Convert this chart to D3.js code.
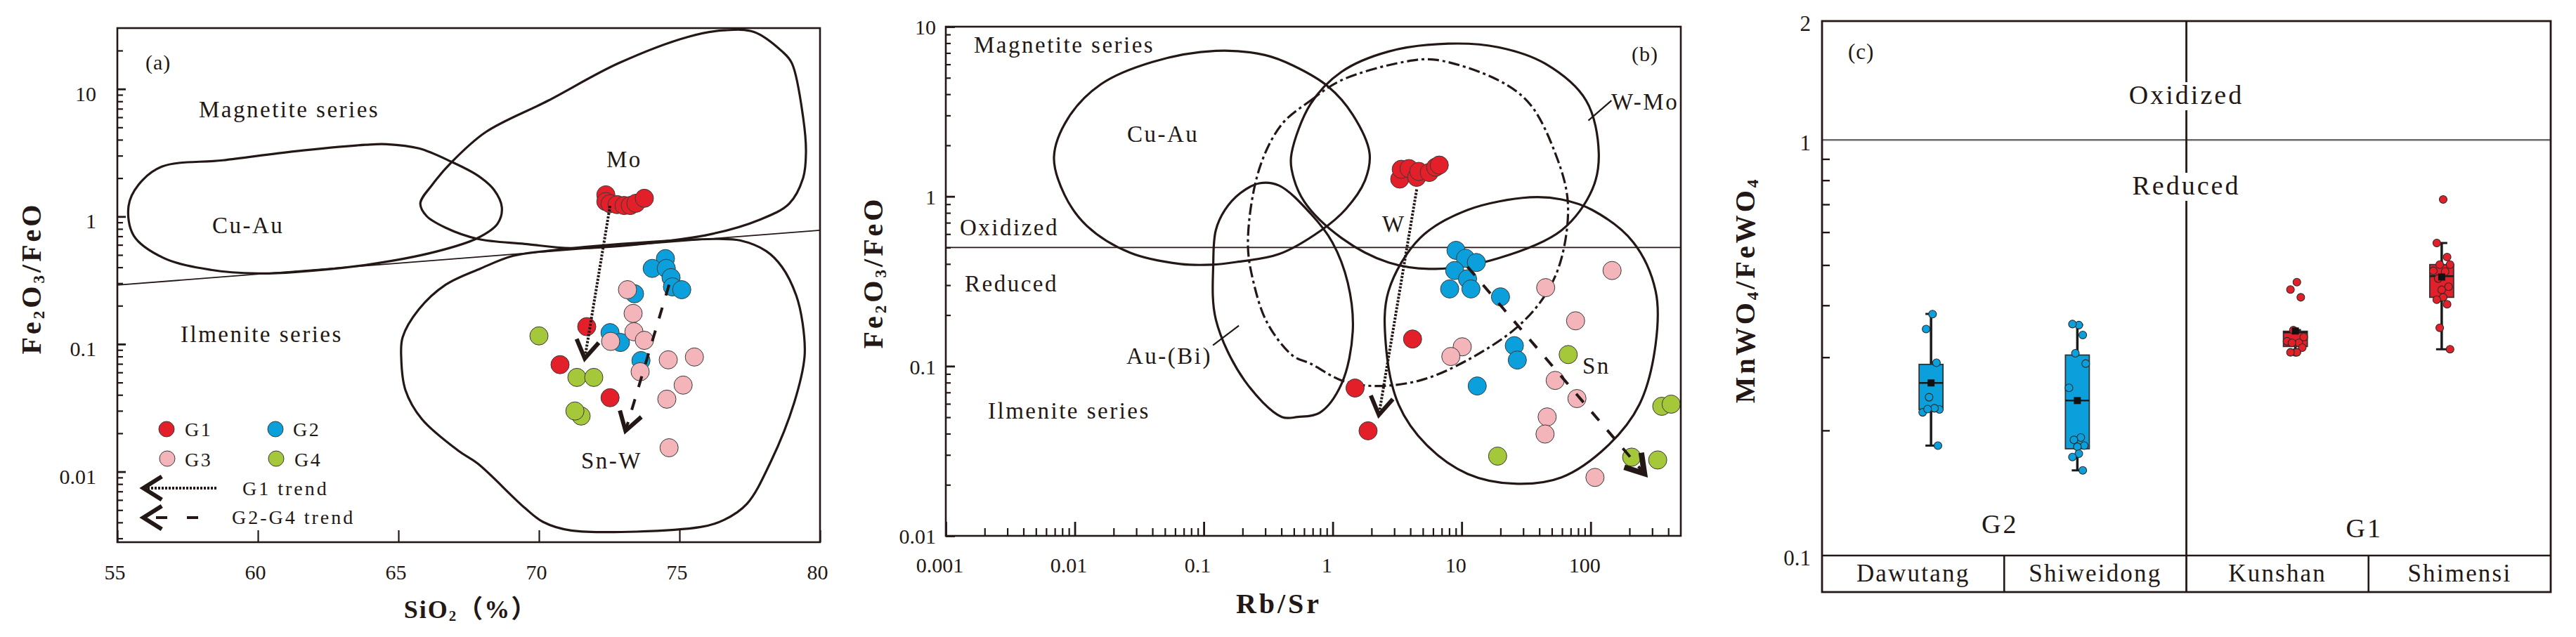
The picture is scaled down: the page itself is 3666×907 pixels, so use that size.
<!DOCTYPE html>
<html>
<head>
<meta charset="utf-8">
<script src="https://cdn.jsdelivr.net/npm/d3@7"></script>
<style>
  body { margin: 0; background: #fff; }
</style>
</head>
<body>
<svg id="chart" width="3666" height="907"></svg>
<script>
// ---------- panel (a): SiO2 vs Fe2O3/FeO ----------
const g1A = [[72.38, 1.48], [72.38, 1.31], [72.53, 1.26], [72.78, 1.24], [73.03, 1.22], [73.25, 1.22],
  [73.45, 1.27], [73.75, 1.39], [71.7, 0.137], [70.75, 0.069], [72.53, 0.038]];
const g2A = [[74.5, 0.468], [74.03, 0.392], [74.53, 0.392], [74.7, 0.332], [74.75, 0.281], [75.08, 0.267],
  [73.4, 0.248], [72.53, 0.123], [72.9, 0.103], [73.63, 0.0743]];
const g3A = [[73.15, 0.267], [73.35, 0.174], [73.38, 0.125], [72.55, 0.105], [73.75, 0.107], [73.6, 0.0607],
  [74.6, 0.0753], [75.53, 0.0792], [75.13, 0.0477], [74.55, 0.037], [74.63, 0.0154]];
const g4A = [[70.0, 0.116], [71.5, 0.0273], [71.28, 0.0299], [71.35, 0.0548], [71.95, 0.0548]];

const cuAuA = [[55.4, 1.21], [55.75, 1.77], [56.58, 2.46], [58.75, 2.76], [61.33, 3.25], [63.83, 3.65],
  [64.58, 3.69], [65.73, 3.42], [66.88, 2.69], [67.83, 2.09], [68.4, 1.62], [68.68, 1.18], [68.53, 0.88],
  [67.83, 0.68], [66.33, 0.53], [63.83, 0.417], [61.33, 0.367], [60.0, 0.358], [58.33, 0.382],
  [56.65, 0.473], [55.58, 0.71]];
const moA = [[65.78, 1.27], [66.2, 1.77], [66.88, 2.65], [68.1, 4.58], [70.33, 8.1], [72.83, 15.9],
  [75.33, 25.7], [76.58, 28.8], [77.65, 28], [78.65, 19.7], [79.0, 15.9], [79.4, 5.97], [79.5, 3.17],
  [79.4, 2.01], [78.9, 1.26], [77.83, 0.94], [76.15, 0.73], [73.65, 0.61], [71.15, 0.565], [69.5, 0.61],
  [67.83, 0.667], [66.68, 0.817], [66.0, 1.01]];
const snWA = [[65.15, 0.113], [65.73, 0.1875], [66.68, 0.292], [67.93, 0.392], [69.08, 0.492], [70.5, 0.544],
  [72.9, 0.61], [76.4, 0.667], [77.15, 0.65], [78.08, 0.537], [78.65, 0.402], [79.15, 0.242], [79.38, 0.146],
  [79.45, 0.08], [79.08, 0.0347], [78.25, 0.012], [77.4, 0.0056], [76.58, 0.00418], [75.75, 0.00368],
  [71.15, 0.00346], [70.15, 0.00403], [69.5, 0.00519], [67.83, 0.01153], [67.15, 0.01449], [65.83, 0.0259],
  [65.25, 0.0436], [65.1, 0.078]];
const seriesLineA = [[55, 0.29], [80, 0.78]];
const g1TrendA = [[72.53, 1.21], [71.63, 0.0772]];
const g24TrendA = [[74.63, 0.292], [73.08, 0.0209]];

const xTicksA = [55, 60, 65, 70, 75, 80];
const yTicksA = [0.01, 0.1, 1, 10];

// ---------- panel (b): Rb/Sr vs Fe2O3/FeO ----------
const g1B = [[3.31, 1.265], [3.40, 1.445], [3.90, 1.459], [4.48, 1.295], [4.65, 1.404], [5.61, 1.384],
  [6.28, 1.486], [6.7, 1.53], [4.16, 0.1445], [1.49, 0.0743], [1.88, 0.0416]];
const g2B = [[9.04, 0.481], [10.7, 0.432], [13.0, 0.408], [8.83, 0.366], [11.1, 0.327], [8.07, 0.285],
  [11.8, 0.285], [20.0, 0.256], [25.6, 0.132], [27.0, 0.1086], [13.2, 0.0764]];
const g3B = [[146.6, 0.366], [44.8, 0.29], [76.4, 0.185], [10.1, 0.13], [8.24, 0.114], [53.1, 0.0824],
  [78.3, 0.0644], [46.0, 0.0502], [44.3, 0.0398], [108, 0.0221]];
const g4B = [[67.0, 0.117], [356, 0.058], [421, 0.0597], [19.0, 0.0295], [208, 0.0291], [331, 0.028]];

const cuAuB = [[0.0069, 1.71], [0.00887, 2.89], [0.016, 4.59], [0.04, 6.2], [0.124, 7.21], [0.298, 6.81],
  [0.492, 5.91], [0.922, 4.44], [1.43, 3.03], [1.93, 1.8], [1.77, 1.23], [1.26, 0.84], [0.813, 0.631],
  [0.383, 0.457], [0.18, 0.411], [0.115, 0.396], [0.066, 0.4], [0.0268, 0.466], [0.01245, 0.669],
  [0.00834, 1.02]];
const auBiB = [[0.1186, 0.408], [0.124, 0.631], [0.146, 0.832], [0.192, 1.045], [0.269, 1.195],
  [0.383, 1.16], [0.673, 0.793], [0.993, 0.537], [1.31, 0.309], [1.43, 0.16], [1.17, 0.0786],
  [0.794, 0.0532], [0.537, 0.0502], [0.403, 0.0502], [0.207, 0.0824], [0.124, 0.189]];
const wB = [[0.403, 2.66], [0.673, 3.67], [1.17, 4.84], [3.57, 6.2], [6.28, 6.38], [19.2, 4.84], [33.8, 3.5],
  [53.1, 1.8], [66.5, 0.932], [59.4, 0.432], [44.5, 0.263], [27, 0.17], [11.1, 0.1086], [4.76, 0.0824],
  [2.06, 0.0764], [1.17, 0.0824], [0.673, 0.1035], [0.492, 0.115], [0.313, 0.178], [0.244, 0.309],
  [0.22, 0.537], [0.269, 1.445]];
const wMoB = [[0.48, 1.8], [0.673, 3.5], [1.17, 5.42], [2.71, 7.14], [7.87, 7.94], [19.2, 7.57], [44.5, 6.05],
  [92.3, 3.67], [115.6, 1.8], [103, 1.1], [59.4, 0.631], [19.2, 0.432], [6.28, 0.374], [2.71, 0.408],
  [1.17, 0.569], [0.601, 0.933], [0.48, 1.445]];
const snB = [[33.8, 0.988], [11.1, 0.832], [4.76, 0.569], [2.71, 0.277], [2.58, 0.1346], [3.24, 0.0595],
  [5.35, 0.0343], [11.1, 0.0232], [25.6, 0.0203], [59.4, 0.0221], [137.7, 0.0343], [239, 0.0595],
  [319, 0.1346], [319, 0.277], [214, 0.537], [103, 0.832], [59.4, 0.96]];
const redoxLineB = [[0.001, 0.5], [500, 0.5]];
const auBiLeader = [[0.1178, 0.1327], [0.1873, 0.1731]];
const wMoLeader = [[96, 2.8], [145, 3.67]];
const g1TrendB = [[4.48, 1.1], [2.28, 0.0516]];
const g24TrendB = [[11.1, 0.385], [261, 0.0233]];

const xTicksB = [0.001, 0.01, 0.1, 1, 10, 100];
const yTicksB = [0.01, 0.1, 1, 10];

// ---------- panel (c): MnWO4/FeWO4 box plots ----------
const sites = ['Dawutang', 'Shiweidong', 'Kunshan', 'Shimensi'];
const siteGroup = ['G2', 'G2', 'G1', 'G1'];
const groupsC = ['G2', 'G1'];
const boxLow = [0.1839, 0.1603, 0.3083, 0.3136];
const boxQ1 = [0.2246, 0.1807, 0.3185, 0.4182];
const boxMed = [0.2602, 0.2360, 0.3443, 0.4699];
const boxQ3 = [0.2884, 0.3037, 0.3465, 0.5014];
const boxHigh = [0.3814, 0.3588, 0.3487, 0.5650];
const boxMean = [0.2602, 0.2360, 0.347, 0.468];
const sitePoints = [
  [0.381, 0.3508, 0.2910, 0.2404, 0.2246, 0.2211, 0.2261, 0.2251, 0.1839],
  [0.3585, 0.3606, 0.3393, 0.3067, 0.2897, 0.2532, 0.1923, 0.1898, 0.1839, 0.1827, 0.1758, 0.1726, 0.1603],
  [0.4549, 0.4365, 0.4182, 0.3487, 0.3355, 0.3278, 0.3248, 0.3248, 0.3164, 0.3083, 0.3083, 0.3083],
  [0.7194, 0.5650, 0.5228, 0.5014, 0.5014, 0.4842, 0.4823, 0.4640, 0.4435, 0.4359, 0.4182, 0.4127,
    0.4023, 0.3532, 0.3136]
];
const yTicksC = [0.1, 1, 2];
const yMinorC = [0.2, 0.3, 0.4, 0.5, 0.6, 0.7, 0.8, 0.9];

// ---------- style ----------
const serif = '"Liberation Serif", "Times New Roman", serif';
const ink = '#231815';
const col = { G1: '#e3202a', G2: '#0ba0dc', G3: '#f3b4ba', G4: '#a4c83a' };

const svg = d3.select('#chart');
svg.append('rect').attr('width', 3666).attr('height', 907).attr('fill', '#fff');

function logMinor(lo, hi) {
  const out = [];
  for (let e = -4; e <= 3; e++) {
    for (let m = 2; m <= 9; m++) {
      const v = m * Math.pow(10, e);
      if (v > lo * 1.05 && v < hi * 0.98) out.push(+v.toPrecision(3));
    }
  }
  return out;
}

function field(g, pts, xs, ys, dash) {
  g.append('path')
    .datum(pts)
    .attr('d', d3.line().x(d => xs(d[0])).y(d => ys(d[1])).curve(d3.curveCatmullRomClosed.alpha(0.5)))
    .attr('fill', 'none')
    .attr('stroke', ink)
    .attr('stroke-width', 3.2)
    .attr('stroke-dasharray', dash || null);
}

function straight(g, pts, xs, ys, w) {
  g.append('path')
    .datum(pts)
    .attr('d', d3.line().x(d => xs(d[0])).y(d => ys(d[1])))
    .attr('fill', 'none')
    .attr('stroke', ink)
    .attr('stroke-width', w);
}

function dots(g, pts, xs, ys, color, r) {
  g.append('g')
    .selectAll('circle')
    .data(pts)
    .enter()
    .append('circle')
    .attr('cx', d => xs(d[0]))
    .attr('cy', d => ys(d[1]))
    .attr('r', r)
    .attr('fill', color)
    .attr('stroke', '#3a3a3a')
    .attr('stroke-width', 1);
}

function chevron(g, x2, y2, ang, len, w) {
  const a = 0.56;
  g.append('path')
    .attr('d', 'M' + (x2 + len * Math.cos(ang + a)) + ',' + (y2 + len * Math.sin(ang + a)) +
      'L' + x2 + ',' + y2 +
      'L' + (x2 + len * Math.cos(ang - a)) + ',' + (y2 + len * Math.sin(ang - a)))
    .attr('fill', 'none')
    .attr('stroke', ink)
    .attr('stroke-width', w)
    .attr('stroke-linejoin', 'miter');
}

function trend(g, pts, xs, ys, dash, w, headW) {
  const x1 = xs(pts[0][0]), y1 = ys(pts[0][1]);
  const x2 = xs(pts[1][0]), y2 = ys(pts[1][1]);
  g.append('line')
    .attr('x1', x1).attr('y1', y1).attr('x2', x2).attr('y2', y2)
    .attr('stroke', ink)
    .attr('stroke-width', w)
    .attr('stroke-dasharray', dash);
  chevron(g, x2, y2, Math.atan2(y1 - y2, x1 - x2), 30, headW);
}

function label(g, x, y, txt, size, opts) {
  opts = opts || {};
  return g.append('text')
    .attr('x', x).attr('y', y)
    .attr('font-family', serif)
    .attr('font-size', size)
    .attr('font-weight', opts.bold ? 'bold' : null)
    .attr('letter-spacing', opts.ls === undefined ? 2.5 : opts.ls)
    .attr('text-anchor', opts.anchor || 'start')
    .attr('fill', ink)
    .text(txt);
}

// title with subscripts: parts = [[text, isSub], ...]
function subTitle(g, x, y, parts, size, rotate, ls) {
  const t = g.append('text')
    .attr('transform', 'translate(' + x + ',' + y + ')' + (rotate ? ' rotate(-90)' : ''))
    .attr('font-family', serif + ', "Noto Sans CJK SC"')
    .attr('font-size', size)
    .attr('font-weight', 'bold')
    .attr('letter-spacing', ls)
    .attr('text-anchor', 'middle')
    .attr('fill', ink);
  let wasSub = false;
  parts.forEach(p => {
    const s = t.append('tspan').text(p[0]);
    if (p[1]) { s.attr('font-size', size * 0.58).attr('dy', size * 0.12); wasSub = true; }
    else if (wasSub) { s.attr('dy', -size * 0.12); wasSub = false; }
  });
  return t;
}

function styleAxis(g, size, w) {
  g.select('.domain').remove();
  g.selectAll('line').attr('stroke', ink).attr('stroke-width', w);
  g.selectAll('text').attr('font-family', serif).attr('font-size', size).attr('fill', ink);
}

// ================= PANEL A =================
const xA = d3.scaleLinear().domain([55, 80]).range([167, 1167]);
const yA = d3.scaleLog().domain([0.0028, 30]).range([772, 40]);
const pa = svg.append('g');

field(pa, cuAuA, xA, yA);
field(pa, moA, xA, yA);
field(pa, snWA, xA, yA);
straight(pa, seriesLineA, xA, yA, 1.8);

dots(pa, g1A, xA, yA, col.G1, 13);
dots(pa, g2A, xA, yA, col.G2, 13);
dots(pa, g3A, xA, yA, col.G3, 13);
dots(pa, g4A, xA, yA, col.G4, 13);

trend(pa, g1TrendA, xA, yA, '3,2', 4, 6);
trend(pa, g24TrendA, xA, yA, '16,18', 4, 6);

pa.append('g').attr('transform', 'translate(167,0)')
  .call(d3.axisLeft(yA).tickValues(logMinor(0.0028, 30)).tickSize(-8).tickFormat(''))
  .call(g => styleAxis(g, 30, 2.2));
pa.append('g').attr('transform', 'translate(167,0)')
  .call(d3.axisLeft(yA).tickValues(yTicksA).tickSize(-12).tickPadding(30).tickFormat(d => String(d)))
  .call(g => styleAxis(g, 30, 2.8))
  .call(g => g.selectAll('text').attr('dy', '0.55em'));
pa.append('g').attr('transform', 'translate(0,772)')
  .call(d3.axisBottom(xA).tickValues(xTicksA).tickSize(-17).tickPadding(32).tickFormat(d => String(d)))
  .call(g => styleAxis(g, 30, 2.2))
  .call(g => g.selectAll('text').attr('dx', -4));

pa.append('rect')
  .attr('x', xA(55)).attr('y', yA(30))
  .attr('width', xA(80) - xA(55)).attr('height', yA(0.0028) - yA(30))
  .attr('fill', 'none').attr('stroke', ink).attr('stroke-width', 2.6);

label(pa, 207, 99, '(a)', 30, { ls: 1 });
label(pa, 283, 167, 'Magnetite series', 33);
label(pa, 302, 332, 'Cu-Au', 33);
label(pa, 257, 487, 'Ilmenite series', 33);
label(pa, 863, 238, 'Mo', 33);
label(pa, 827, 667, 'Sn-W', 33);

// legend
const legA = pa.append('g');
[['G1', 237, 611, 263, 621], ['G2', 392, 611, 417, 621], ['G3', 238, 653, 263, 664], ['G4', 393, 653, 419, 664]]
  .forEach(d => {
    legA.append('circle').attr('cx', d[1]).attr('cy', d[2]).attr('r', 11)
      .attr('fill', col[d[0]]).attr('stroke', '#3a3a3a').attr('stroke-width', 1);
    label(legA, d[3], d[4], d[0], 28, { ls: 2.5 });
  });
legA.append('line').attr('x1', 210).attr('x2', 308).attr('y1', 695).attr('y2', 695)
  .attr('stroke', ink).attr('stroke-width', 4).attr('stroke-dasharray', '3,2');
chevron(legA, 204, 695, 0, 31, 6);
label(legA, 345, 705, 'G1 trend', 28, { ls: 3 });
legA.append('line').attr('x1', 210).attr('x2', 310).attr('y1', 737).attr('y2', 737)
  .attr('stroke', ink).attr('stroke-width', 4).attr('stroke-dasharray', '0,12,16,16');
chevron(legA, 204, 737, 0, 31, 6);
label(legA, 330, 746, 'G2-G4 trend', 28, { ls: 3 });

subTitle(pa, 58, 396, [['Fe', 0], ['2', 1], ['O', 0], ['3', 1], ['/FeO', 0]], 40, true, 4);
subTitle(pa, 670, 880, [['SiO', 0], ['2', 1], ['（%）', 0]], 36, false, 2);

// ================= PANEL B =================
const xB = d3.scaleLog().domain([0.001, 500]).range([1346, 2392]);
const yB = d3.scaleLog().domain([0.01, 10]).range([763, 38]);
const pb = svg.append('g');

straight(pb, redoxLineB, xB, yB, 1.8);
field(pb, cuAuB, xB, yB);
field(pb, auBiB, xB, yB);
field(pb, wMoB, xB, yB);
field(pb, snB, xB, yB);
field(pb, wB, xB, yB, '16,5,4,5');
straight(pb, auBiLeader, xB, yB, 2.2);
straight(pb, wMoLeader, xB, yB, 2.2);

dots(pb, g1B, xB, yB, col.G1, 13);
dots(pb, g2B, xB, yB, col.G2, 13);
dots(pb, g3B, xB, yB, col.G3, 13);
dots(pb, g4B, xB, yB, col.G4, 13);

trend(pb, g1TrendB, xB, yB, '3,2', 4, 6);
trend(pb, g24TrendB, xB, yB, '16,18', 4, 8);

pb.append('g').attr('transform', 'translate(1346,0)')
  .call(d3.axisLeft(yB).tickValues(logMinor(0.01, 10)).tickSize(-7).tickFormat(''))
  .call(g => styleAxis(g, 30, 2.2));
pb.append('g').attr('transform', 'translate(1346,0)')
  .call(d3.axisLeft(yB).tickValues(yTicksB).tickSize(-13).tickPadding(14).tickFormat(d => String(d)))
  .call(g => styleAxis(g, 30, 2.8))
  .call(g => g.selectAll('text').attr('dy', '0.36em'));
pb.append('g').attr('transform', 'translate(0,763)')
  .call(d3.axisBottom(xB).tickValues(logMinor(0.001, 500)).tickSize(-11).tickFormat(''))
  .call(g => styleAxis(g, 30, 2.2));
pb.append('g').attr('transform', 'translate(0,763)')
  .call(d3.axisBottom(xB).tickValues(xTicksB).tickSize(-20).tickPadding(31).tickFormat(d => String(d)))
  .call(g => styleAxis(g, 30, 2.8))
  .call(g => g.selectAll('text').attr('dx', -9));

pb.append('rect')
  .attr('x', xB(0.001)).attr('y', yB(10))
  .attr('width', xB(500) - xB(0.001)).attr('height', yB(0.01) - yB(10))
  .attr('fill', 'none').attr('stroke', ink).attr('stroke-width', 2.6);

label(pb, 2322, 87, '(b)', 30, { ls: 1 });
label(pb, 1386, 75, 'Magnetite series', 33);
label(pb, 1604, 202, 'Cu-Au', 33);
label(pb, 1366, 335, 'Oxidized', 33);
label(pb, 1373, 415, 'Reduced', 33);
label(pb, 1603, 518, 'Au-(Bi)', 33);
label(pb, 1406, 596, 'Ilmenite series', 33);
label(pb, 1967, 330, 'W', 33);
label(pb, 2293, 156, 'W-Mo', 33);
label(pb, 2252, 532, 'Sn', 33);

subTitle(pb, 1256, 388, [['Fe', 0], ['2', 1], ['O', 0], ['3', 1], ['/FeO', 0]], 40, true, 4);
subTitle(pb, 1820, 873, [['Rb/Sr', 0]], 40, false, 4);

// ================= PANEL C =================
const cLeft = 2593, cRight = 3630, cTop = 30, cPlotBottom = 791, cStripBottom = 843;
const yC = d3.scaleLog().domain([0.1, 1, 2]).range([cPlotBottom, 199.3, cTop]);
const xSite = d3.scaleBand().domain(sites).range([cLeft, cRight]);
const xGroup = d3.scaleBand().domain(groupsC).range([cLeft, cRight]);
const xInner = d3.scaleBand().domain([0, 1]).range([0, xGroup.bandwidth()]).padding(0.49);
const pc = svg.append('g');

pc.append('line').attr('x1', cLeft).attr('x2', cRight).attr('y1', yC(1)).attr('y2', yC(1))
  .attr('stroke', '#6b6b6b').attr('stroke-width', 2.6);

function boxCenter(i) {
  const g = siteGroup[i];
  const k = sites.filter((s, j) => siteGroup[j] === g).indexOf(sites[i]);
  return xGroup(g) + xInner(k) + xInner.bandwidth() / 2;
}

const jitter = [0.15, -0.5, 0.55, -0.2, 0.85, -0.85, 0.35, -0.35, 0.7, 0];
sites.forEach((s, i) => {
  const cx = boxCenter(i);
  const c = col[siteGroup[i]];
  const bw = 34;
  const gb = pc.append('g');
  gb.append('line').attr('x1', cx).attr('x2', cx).attr('y1', yC(boxHigh[i])).attr('y2', yC(boxLow[i]))
    .attr('stroke', '#1a1a1a').attr('stroke-width', 3.5);
  [boxHigh[i], boxLow[i]].forEach(v => {
    gb.append('line').attr('x1', cx - 8).attr('x2', cx + 8).attr('y1', yC(v)).attr('y2', yC(v))
      .attr('stroke', '#1a1a1a').attr('stroke-width', 3);
  });
  gb.append('rect')
    .attr('x', cx - bw / 2).attr('y', yC(boxQ3[i]))
    .attr('width', bw).attr('height', yC(boxQ1[i]) - yC(boxQ3[i]))
    .attr('fill', c).attr('stroke', '#333').attr('stroke-width', 1.8);
  gb.append('line').attr('x1', cx - bw / 2).attr('x2', cx + bw / 2)
    .attr('y1', yC(boxMed[i])).attr('y2', yC(boxMed[i]))
    .attr('stroke', '#1a1a1a').attr('stroke-width', 2.5);
  gb.selectAll('circle')
    .data(sitePoints[i])
    .enter()
    .append('circle')
    .attr('cx', (d, j) => cx + jitter[j % jitter.length] * 14)
    .attr('cy', d => yC(d))
    .attr('r', 5.5)
    .attr('fill', c)
    .attr('stroke', '#2a2a2a')
    .attr('stroke-width', 1.1);
  gb.append('rect')
    .attr('x', cx - 5).attr('y', yC(boxMean[i]) - 5)
    .attr('width', 10).attr('height', 10)
    .attr('fill', '#111');
});

pc.append('g').attr('transform', 'translate(' + cLeft + ',0)')
  .call(d3.axisLeft(yC).tickValues(yMinorC).tickSize(-11).tickFormat(''))
  .call(g => styleAxis(g, 31, 2.4));
pc.append('g').attr('transform', 'translate(' + cLeft + ',0)')
  .call(d3.axisLeft(yC).tickValues(yTicksC).tickSize(0).tickPadding(16).tickFormat(d => String(d)))
  .call(g => styleAxis(g, 31, 0))
  .call(g => g.selectAll('text').attr('dy', '0.45em'));

// category strip
pc.append('line').attr('x1', cLeft).attr('x2', cRight).attr('y1', cPlotBottom).attr('y2', cPlotBottom)
  .attr('stroke', ink).attr('stroke-width', 2.6);
sites.forEach((s, i) => {
  if (i === 0 || siteGroup[i] !== siteGroup[i - 1]) return;
  pc.append('line').attr('x1', xSite(s)).attr('x2', xSite(s)).attr('y1', cPlotBottom).attr('y2', cStripBottom)
    .attr('stroke', ink).attr('stroke-width', 2.6);
});
sites.forEach(s => {
  label(pc, xSite(s) + xSite.bandwidth() / 2, 828, s, 35, { anchor: 'middle', ls: 2.2 });
});

pc.append('line').attr('x1', xGroup('G1')).attr('x2', xGroup('G1'))
  .attr('y1', cTop).attr('y2', cStripBottom)
  .attr('stroke', ink).attr('stroke-width', 2.8);

pc.append('rect')
  .attr('x', cLeft).attr('y', cTop)
  .attr('width', cRight - cLeft).attr('height', cStripBottom - cTop)
  .attr('fill', 'none').attr('stroke', ink).attr('stroke-width', 2.8);

function bgLabel(g, x, y, txt, size) {
  const bg = g.append('rect').attr('fill', '#fff');
  const t = label(g, x, y, txt, size, { anchor: 'middle', ls: 3 });
  const b = t.node().getBBox();
  bg.attr('x', b.x - 4).attr('y', b.y + 3).attr('width', b.width + 8).attr('height', b.height - 2);
}
bgLabel(pc, xGroup('G1'), 148, 'Oxidized', 38);
bgLabel(pc, xGroup('G1'), 277, 'Reduced', 38);

label(pc, 2630, 84, '(c)', 31, { ls: 1 });
groupsC.forEach(g => {
  label(pc, xGroup(g) + xGroup.bandwidth() / 2 - 6, g === 'G2' ? 759 : 765, g, 38, { anchor: 'middle', ls: 3 });
});

subTitle(pc, 2497, 413, [['MnWO', 0], ['4', 1], ['/FeWO', 0], ['4', 1]], 40, true, 4);
</script>
</body>
</html>
